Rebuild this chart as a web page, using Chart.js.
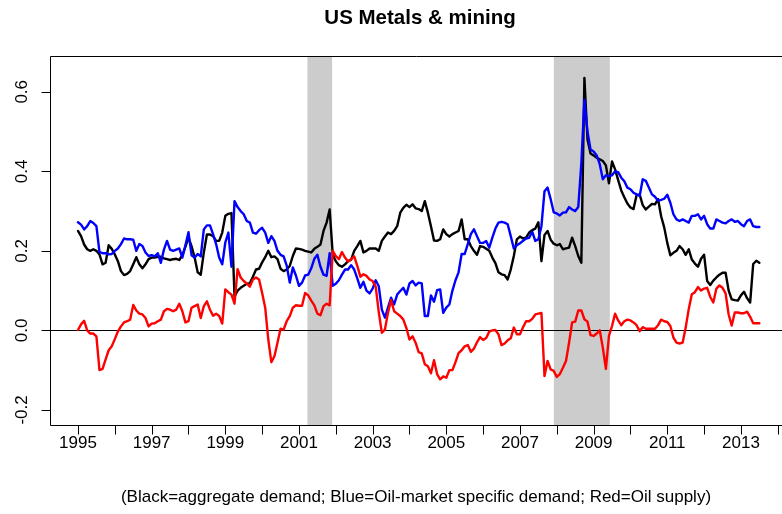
<!DOCTYPE html>
<html lang="en">
<head>
<meta charset="UTF-8">
<title>US Metals &amp; mining</title>
<script src="https://cdn.jsdelivr.net/npm/chart.js@4"></script>
<style>
  body { margin: 0; background: #fff; }
</style>
</head>
<body>
<canvas id="chart" width="782" height="514"></canvas>
<script>
// monthly series, January 1995 to July 2013
const startYear = 1995;

const black = [
  0.250, 0.237, 0.216, 0.204, 0.200, 0.204, 0.200, 0.191, 0.166, 0.170, 0.214, 0.205,
  0.191, 0.174, 0.149, 0.139, 0.142, 0.149, 0.166, 0.184, 0.166, 0.156, 0.166, 0.179,
  0.183, 0.183, 0.185, 0.185, 0.181, 0.179, 0.177, 0.179, 0.180, 0.177, 0.189, 0.210,
  0.233, 0.212, 0.183, 0.146, 0.140, 0.196, 0.241, 0.241, 0.237, 0.225, 0.225, 0.246,
  0.288, 0.293, 0.295, 0.085, 0.100, 0.107, 0.112, 0.117, 0.119, 0.135, 0.153, 0.155,
  0.171, 0.184, 0.200, 0.184, 0.186, 0.179, 0.155, 0.149, 0.153, 0.162, 0.187, 0.206,
  0.205, 0.203, 0.200, 0.198, 0.196, 0.205, 0.210, 0.216, 0.250, 0.271, 0.304, 0.191,
  0.174, 0.164, 0.160, 0.166, 0.174, 0.178, 0.200, 0.212, 0.225, 0.196, 0.200, 0.206,
  0.206, 0.206, 0.200, 0.225, 0.236, 0.246, 0.242, 0.250, 0.262, 0.296, 0.308, 0.316,
  0.310, 0.317, 0.307, 0.305, 0.300, 0.325, 0.296, 0.262, 0.226, 0.225, 0.229, 0.254,
  0.242, 0.236, 0.242, 0.246, 0.250, 0.279, 0.229, 0.229, 0.212, 0.200, 0.190, 0.212,
  0.210, 0.205, 0.200, 0.183, 0.169, 0.146, 0.141, 0.139, 0.128, 0.153, 0.187, 0.229,
  0.236, 0.231, 0.233, 0.246, 0.252, 0.256, 0.272, 0.174, 0.240, 0.250, 0.228, 0.218,
  0.214, 0.217, 0.204, 0.206, 0.208, 0.233, 0.212, 0.187, 0.170, 0.635, 0.480, 0.445,
  0.440, 0.434, 0.430, 0.426, 0.415, 0.370, 0.425, 0.405, 0.378, 0.352, 0.335, 0.319,
  0.309, 0.305, 0.340, 0.342, 0.315, 0.304, 0.311, 0.318, 0.317, 0.330, 0.287, 0.259,
  0.220, 0.189, 0.195, 0.200, 0.212, 0.204, 0.190, 0.204, 0.178, 0.168, 0.160, 0.180,
  0.190, 0.124, 0.114, 0.125, 0.133, 0.140, 0.145, 0.145, 0.100, 0.078, 0.076, 0.075,
  0.088, 0.097, 0.081, 0.070, 0.167, 0.175, 0.170
];

const blue = [
  0.272, 0.266, 0.254, 0.262, 0.275, 0.270, 0.262, 0.197, 0.194, 0.194, 0.191, 0.192,
  0.200, 0.206, 0.217, 0.231, 0.229, 0.229, 0.228, 0.200, 0.217, 0.212, 0.196, 0.187,
  0.189, 0.186, 0.194, 0.170, 0.203, 0.225, 0.203, 0.200, 0.203, 0.206, 0.183, 0.214,
  0.247, 0.189, 0.183, 0.192, 0.186, 0.254, 0.264, 0.264, 0.242, 0.217, 0.183, 0.166,
  0.221, 0.246, 0.160, 0.325, 0.310, 0.300, 0.292, 0.275, 0.271, 0.246, 0.243, 0.252,
  0.258, 0.246, 0.220, 0.237, 0.225, 0.200, 0.190, 0.186, 0.163, 0.120, 0.158, 0.138,
  0.112, 0.120, 0.138, 0.140, 0.156, 0.180, 0.190, 0.160, 0.140, 0.137, 0.194, 0.112,
  0.117, 0.126, 0.140, 0.153, 0.153, 0.164, 0.153, 0.131, 0.107, 0.122, 0.100, 0.093,
  0.105, 0.126, 0.111, 0.052, 0.032, 0.057, 0.082, 0.065, 0.090, 0.099, 0.107, 0.090,
  0.118, 0.124, 0.113, 0.120, 0.118, 0.036, 0.036, 0.088, 0.072, 0.101, 0.103, 0.044,
  0.057, 0.065, 0.100, 0.126, 0.146, 0.192, 0.192, 0.217, 0.242, 0.254, 0.237, 0.220,
  0.220, 0.225, 0.208, 0.233, 0.256, 0.271, 0.273, 0.271, 0.267, 0.237, 0.206, 0.214,
  0.219, 0.225, 0.231, 0.233, 0.248, 0.225, 0.229, 0.262, 0.350, 0.359, 0.330, 0.297,
  0.294, 0.289, 0.296, 0.297, 0.310, 0.304, 0.300, 0.310, 0.420, 0.580, 0.500, 0.455,
  0.450, 0.440, 0.418, 0.380, 0.390, 0.388, 0.390, 0.400, 0.398, 0.384, 0.375, 0.359,
  0.355, 0.346, 0.342, 0.338, 0.380, 0.376, 0.359, 0.342, 0.336, 0.326, 0.328, 0.331,
  0.341, 0.321, 0.292, 0.279, 0.275, 0.279, 0.275, 0.271, 0.288, 0.288, 0.292, 0.279,
  0.288, 0.267, 0.256, 0.256, 0.279, 0.275, 0.271, 0.269, 0.275, 0.279, 0.273, 0.275,
  0.267, 0.262, 0.275, 0.279, 0.262, 0.260, 0.260
];

const red = [
  0.001, 0.015, 0.024, 0.000, -0.008, -0.008, -0.015, -0.100, -0.097, -0.073, -0.050, -0.040,
  -0.022, -0.003, 0.010, 0.020, 0.023, 0.027, 0.064, 0.050, 0.042, 0.040, 0.031, 0.010,
  0.017, 0.018, 0.023, 0.027, 0.048, 0.054, 0.052, 0.048, 0.052, 0.067, 0.048, 0.020,
  0.023, 0.057, 0.061, 0.065, 0.031, 0.061, 0.073, 0.052, 0.037, 0.042, 0.036, 0.017,
  0.103, 0.096, 0.090, 0.067, 0.154, 0.133, 0.124, 0.118, 0.110, 0.128, 0.133, 0.128,
  0.094, 0.057, -0.023, -0.080, -0.065, -0.031, 0.004, 0.002, 0.023, 0.036, 0.057, 0.063,
  0.062, 0.062, 0.094, 0.088, 0.075, 0.063, 0.042, 0.038, 0.061, 0.067, 0.063, 0.200,
  0.187, 0.179, 0.197, 0.183, 0.173, 0.179, 0.186, 0.162, 0.135, 0.141, 0.137, 0.128,
  0.124, 0.110, 0.046, -0.006, 0.002, 0.044, 0.076, 0.048, 0.042, 0.036, 0.027, 0.006,
  -0.023, -0.015, -0.031, -0.055, -0.058, -0.085, -0.090, -0.108, -0.075, -0.110, -0.123, -0.116,
  -0.119, -0.100, -0.100, -0.080, -0.057, -0.050, -0.040, -0.037, -0.054, -0.046, -0.030, -0.017,
  -0.024, -0.019, -0.003, 0.000, 0.001, -0.010, -0.037, -0.033, -0.025, -0.020, 0.007, -0.010,
  -0.010, 0.008, 0.023, 0.023, 0.029, 0.040, 0.042, 0.044, -0.115, -0.077, -0.098, -0.102,
  -0.117, -0.110, -0.094, -0.077, -0.031, 0.020, 0.022, 0.050, 0.050, 0.028, 0.022, -0.012,
  -0.014, -0.008, 0.000, -0.044, -0.097, -0.014, 0.011, 0.042, 0.025, 0.013, 0.023, 0.027,
  0.025, 0.020, 0.013, -0.002, 0.008, 0.004, 0.004, 0.004, 0.004, 0.013, 0.027, 0.023,
  0.021, 0.011, -0.018, -0.031, -0.033, -0.031, 0.007, 0.054, 0.091, 0.096, 0.109, 0.100,
  0.105, 0.107, 0.084, 0.070, 0.105, 0.113, 0.107, 0.093, 0.040, 0.012, 0.045, 0.045,
  0.043, 0.043, 0.047, 0.034, 0.018, 0.018, 0.018
];

// shaded recessions (start, end in years)
const recessions = [[2001.23, 2001.9], [2007.92, 2009.44]];

const yearTicks = [1995, 1996, 1997, 1998, 1999, 2000, 2001, 2002, 2003, 2004,
                   2005, 2006, 2007, 2008, 2009, 2010, 2011, 2012, 2013, 2014];
const yearLabels = [1995, 1997, 1999, 2001, 2003, 2005, 2007, 2009, 2011, 2013];
const yTicks = [-0.2, 0, 0.2, 0.4, 0.6];
const yLabels = ['-0.2', '0.0', '0.2', '0.4', '0.6'];

const titleText = 'US Metals & mining';
const captionText = '(Black=aggregate demand; Blue=Oil-market specific demand; Red=Oil supply)';

function toPoints(vals) {
  return vals.map((v, i) => ({ x: startYear + i / 12, y: v }));
}

const FONT = '"Liberation Sans", Arial, Helvetica, sans-serif';

const rFrame = {
  id: 'rFrame',
  beforeDatasetsDraw(chart) {
    const { ctx, chartArea: a, scales: { x, y } } = chart;
    ctx.save();
    ctx.fillStyle = '#cccccc';
    recessions.forEach(([s, e]) => {
      const x0 = x.getPixelForValue(s), x1 = x.getPixelForValue(e);
      ctx.fillRect(x0, a.top, x1 - x0, a.bottom - a.top);
    });
    // zero line
    const y0 = Math.round(y.getPixelForValue(0)) + 0.5;
    ctx.strokeStyle = '#000';
    ctx.lineWidth = 1;
    ctx.beginPath();
    ctx.moveTo(a.left, y0);
    ctx.lineTo(a.right, y0);
    ctx.stroke();
    ctx.restore();
  },
  afterDraw(chart) {
    const { ctx, chartArea: a, scales: { x, y } } = chart;
    ctx.save();
    ctx.strokeStyle = '#000';
    ctx.lineWidth = 1;

    // box (right side falls outside the picture)
    const L = Math.round(a.left) + 0.5, T = Math.round(a.top) + 0.5, B = Math.round(a.bottom) + 0.5;
    ctx.beginPath();
    ctx.moveTo(a.right + 2, T); ctx.lineTo(L, T); ctx.lineTo(L, B); ctx.lineTo(a.right + 2, B);
    ctx.stroke();

    // x ticks
    ctx.beginPath();
    yearTicks.forEach(t => {
      const px = Math.round(x.getPixelForValue(t)) + 0.5;
      ctx.moveTo(px, B); ctx.lineTo(px, B + 9);
    });
    // y ticks
    yTicks.forEach(t => {
      const py = Math.round(y.getPixelForValue(t)) + 0.5;
      ctx.moveTo(L, py); ctx.lineTo(L - 9, py);
    });
    ctx.stroke();

    ctx.fillStyle = '#000';
    ctx.font = '17px ' + FONT;
    ctx.textAlign = 'center';
    ctx.textBaseline = 'middle';
    yearLabels.forEach(t => {
      ctx.fillText(String(t), x.getPixelForValue(t), 443);
    });
    yTicks.forEach((t, i) => {
      ctx.save();
      ctx.translate(22, y.getPixelForValue(t));
      ctx.rotate(-Math.PI / 2);
      ctx.fillText(yLabels[i], 0, 0);
      ctx.restore();
    });

    ctx.fillText(captionText, 416, 497);

    ctx.font = 'bold 20.5px ' + FONT;
    ctx.fillText(titleText, 420, 18);
    ctx.restore();
  }
};

new Chart(document.getElementById('chart'), {
  type: 'line',
  data: {
    datasets: [
      { label: 'Aggregate demand', data: toPoints(black), borderColor: '#000000', order: 3 },
      { label: 'Oil-market specific demand', data: toPoints(blue), borderColor: '#0000ff', order: 2 },
      { label: 'Oil supply', data: toPoints(red), borderColor: '#ff0000', order: 1 }
    ]
  },
  options: {
    responsive: false,
    devicePixelRatio: 1,
    animation: false,
    layout: { padding: { left: 50, top: 56, right: 0, bottom: 89 } },
    elements: {
      line: { borderWidth: 2.4, tension: 0, fill: false, borderJoinStyle: 'round', borderCapStyle: 'round' },
      point: { radius: 0 }
    },
    scales: {
      x: { type: 'linear', min: 1994.24, max: 2014.115, display: false },
      y: { type: 'linear', min: -0.238, max: 0.69, display: false }
    },
    plugins: {
      legend: { display: false },
      tooltip: { enabled: false },
      title: { display: false }
    }
  },
  plugins: [rFrame]
});
</script>
</body>
</html>
